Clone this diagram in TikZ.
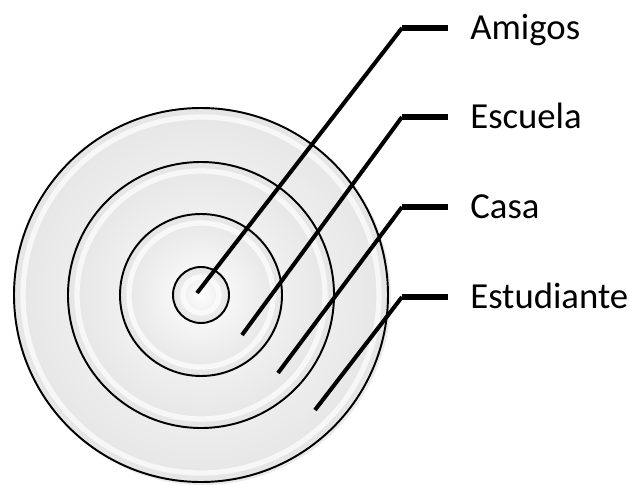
\documentclass[tikz,border=0pt]{standalone}
\usepackage{fontspec}
\setmainfont{Carlito}
\usetikzlibrary{positioning}

\tikzset{
  ring/.style={draw=black, line width=1.1pt, inner color=white, outer color=gray!20},
  gleam/.style={draw=white, line width=3pt, opacity=0.7},
  leader/.style={line width=2.3pt},
  tab/.style={line width=3.6pt, shorten >=10.2pt},
  lbl/.style={anchor=base west, inner sep=0.8mm, font=\fontsize{20.9pt}{25pt}\selectfont}
}

\begin{document}
\begin{tikzpicture}[x=0.02cm, y=0.02cm]
        \useasboundingbox (0,0) rectangle (630,485);
        % Concentric rings
        \coordinate (c) at (201,190);
        \fill[gray!40, opacity=0.4] (203,188) circle (188);
        \shadedraw[ring] (c) circle (187);
        \draw[gleam] (c) circle (178);
        \shadedraw[ring] (c) circle (133);
        \draw[gleam] (c) circle (124);
        \shadedraw[ring] (c) circle (81);
        \draw[gleam] (c) circle (72);
        \shadedraw[ring] (c) circle (28);
        \draw[gleam] (c) circle (18);

        % Labels
        \node[lbl] (amigos)     at (466,446) {Amigos};
        \node[lbl] (escuela)    at (466,357) {Escuela};
        \node[lbl] (casa)       at (466,267) {Casa};
        \node[lbl] (estudiante) at (466,177) {Estudiante};

        % Leader lines
        \coordinate (a0) at (197,192); \coordinate (a1) at (402,457);
        \coordinate (e0) at (242,150); \coordinate (e1) at (402,368);
        \coordinate (k0) at (278,112); \coordinate (k1) at (402,278);
        \coordinate (s0) at (315,75);  \coordinate (s1) at (402,188);
        \draw[leader] (a0) -- (a1);
        \draw[leader] (e0) -- (e1);
        \draw[leader] (k0) -- (k1);
        \draw[leader] (s0) -- (s1);
        \draw[tab] (a1) -- (a1 -| amigos.west);
        \draw[tab] (e1) -- (e1 -| escuela.west);
        \draw[tab] (k1) -- (k1 -| casa.west);
        \draw[tab] (s1) -- (s1 -| estudiante.west);
      \end{tikzpicture}
\end{document}
